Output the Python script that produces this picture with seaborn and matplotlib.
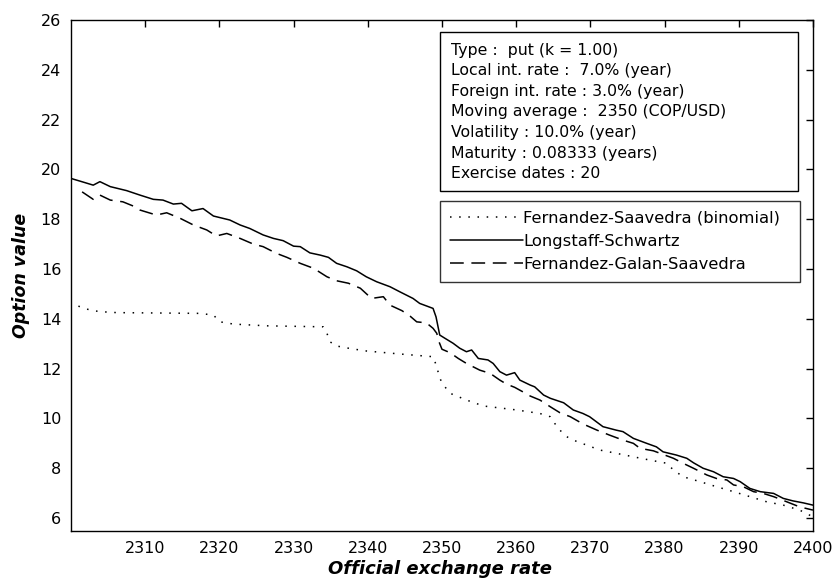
import pandas as pd
import matplotlib
matplotlib.use("Agg")
import matplotlib.pyplot as plt
import seaborn as sns
from matplotlib.patches import Rectangle

# Longstaff-Schwartz (solid)
ls_x = [2300, 2301.9, 2303, 2303.9, 2305.3, 2307.5, 2309.3, 2311.1, 2312.4, 2313.8,
        2314.9, 2316.3, 2317.8, 2319.2, 2321.4, 2322.8, 2324.1, 2325.9, 2327.3, 2328.6,
        2330, 2330.9, 2332.2, 2333.6, 2334.7, 2335.8, 2337.2, 2338.5, 2339.8, 2341.2,
        2343, 2344.3, 2346.1, 2347, 2348.8, 2349.2, 2349.7, 2350.4, 2351.5, 2352.4,
        2353.3, 2354, 2354.9, 2356.2, 2356.9, 2357.8, 2358.7, 2359.8, 2360.5, 2361.9,
        2362.5, 2363.7, 2364.6, 2366.4, 2367.7, 2369, 2369.9, 2371.7, 2373.5, 2374.4,
        2375.8, 2377.6, 2378.9, 2379.8, 2381.6, 2383, 2383.9, 2385.2, 2386.6, 2387.9,
        2389.3, 2390.2, 2391.5, 2392.9, 2394.7, 2396, 2397.3, 2398.7, 2400]
ls_y = [19.64, 19.47, 19.37, 19.51, 19.31, 19.15, 18.97, 18.8, 18.77, 18.61,
        18.64, 18.34, 18.43, 18.13, 17.97, 17.77, 17.63, 17.37, 17.23, 17.14,
        16.92, 16.9, 16.65, 16.56, 16.47, 16.23, 16.09, 15.93, 15.69, 15.49,
        15.29, 15.09, 14.82, 14.62, 14.42, 14.08, 13.35, 13.22, 13.02, 12.82,
        12.68, 12.75, 12.41, 12.35, 12.21, 11.88, 11.74, 11.84, 11.54, 11.34,
        11.27, 10.94, 10.81, 10.63, 10.34, 10.2, 10.07, 9.67, 9.53, 9.47,
        9.2, 9.0, 8.86, 8.66, 8.53, 8.4, 8.22, 8.0, 7.86, 7.66,
        7.59, 7.46, 7.19, 7.06, 6.99, 6.79, 6.69, 6.61, 6.52]

# Fernandez-Galan-Saavedra (dashed)
fgs_x = [2301.5, 2303, 2303.9, 2305.3, 2307, 2308.4, 2309.3, 2311.5, 2312.9, 2314.7,
         2316.5, 2318.3, 2319.6, 2321, 2322.8, 2324.6, 2325.9, 2327.7, 2329.1, 2330.9,
         2332.7, 2334.5, 2335.8, 2337.4, 2339, 2340.5, 2342.1, 2343, 2344.6, 2345.7,
         2346.6, 2347.9, 2348.8, 2349.3, 2349.6, 2350, 2351.1, 2352.2, 2353.3, 2355.1,
         2356.5, 2357.8, 2358.7, 2359.8, 2360.9, 2361.9, 2363.2, 2364.6, 2365.9, 2367.3,
         2369, 2370.9, 2372.6, 2374.4, 2375.8, 2376.7, 2378.5, 2379.4, 2381.2, 2382.5,
         2383.9, 2385.7, 2387, 2388.4, 2389.3, 2390.6, 2392, 2393.3, 2394.7, 2396.5,
         2398.2, 2400]
fgs_y = [19.1, 18.8, 18.97, 18.77, 18.7, 18.53, 18.37, 18.17, 18.26, 18.04,
         17.77, 17.57, 17.33, 17.43, 17.23, 17.0, 16.9, 16.63, 16.47, 16.23,
         16.03, 15.69, 15.53, 15.43, 15.23, 14.82, 14.89, 14.55, 14.33, 14.11,
         13.88, 13.84, 13.62, 13.42, 13.08, 12.78, 12.64, 12.41, 12.21, 11.94,
         11.81, 11.54, 11.38, 11.25, 11.07, 10.9, 10.74, 10.47, 10.23, 10.07,
         9.78, 9.53, 9.33, 9.13, 9.0, 8.8, 8.7, 8.6, 8.4, 8.2,
         8.0, 7.73, 7.59, 7.53, 7.33, 7.26, 7.06, 6.99, 6.86, 6.65,
         6.45, 6.32]

# Fernandez-Saavedra binomial (dotted)
bin_x = [2301, 2302.6, 2303.9, 2306.2, 2317.4, 2319.2, 2320.1, 2321.9, 2326.4, 2334,
         2334.5, 2334.9, 2335.8, 2337.6, 2339.8, 2344.3, 2348.8, 2349.3, 2349.7, 2350.4,
         2351.1, 2353.3, 2355.6, 2360.1, 2363.2, 2364.6, 2365.2, 2365.9, 2366.8, 2367.7,
         2369.5, 2371.3, 2373.5, 2375.8, 2378, 2380.3, 2381.2, 2382.5, 2384.8, 2387,
         2389.3, 2391.5, 2393.8, 2396, 2398.2, 2400]
bin_y = [14.51, 14.35, 14.29, 14.25, 14.22, 14.15, 13.88, 13.79, 13.72, 13.68,
         13.42, 13.08, 12.91, 12.81, 12.71, 12.59, 12.48, 12.08, 11.61, 11.27,
         11.01, 10.74, 10.5, 10.34, 10.2, 10.07, 9.8, 9.53, 9.27, 9.13,
         8.93, 8.73, 8.6, 8.46, 8.33, 8.2, 7.93, 7.66, 7.46, 7.26,
         7.06, 6.86, 6.65, 6.52, 6.32, 6.05]

x_ticks = [2310, 2320, 2330, 2340, 2350, 2360, 2370, 2380, 2390, 2400]
y_ticks = [6, 8, 10, 12, 14, 16, 18, 20, 22, 24, 26]

info_lines = [
    "Type :  put (k = 1.00)",
    "Local int. rate :  7.0% (year)",
    "Foreign int. rate : 3.0% (year)",
    "Moving average :  2350 (COP/USD)",
    "Volatility : 10.0% (year)",
    "Maturity : 0.08333 (years)",
    "Exercise dates : 20",
]

sns.set_style("white")
plt.rcParams["font.family"] = ["DejaVu Sans"]
plt.rcParams["text.color"] = "black"
plt.rcParams["axes.labelcolor"] = "black"

fig = plt.figure(figsize=(8.32, 5.78), dpi=100)
ax = fig.add_axes([0.0853, 0.0813, 0.8918, 0.884])

series = [
    ("Fernandez-Saavedra (binomial)", bin_x, bin_y, (0, (1, 5))),
    ("Longstaff-Schwartz", ls_x, ls_y, "-"),
    ("Fernandez-Galan-Saavedra", fgs_x, fgs_y, (0, (9, 5))),
]
for name, xs, ys, style in series:
    df = pd.DataFrame({"x": xs, "y": ys})
    sns.lineplot(data=df, x="x", y="y", ax=ax, color="black", linewidth=1.1,
                 linestyle=style, label=name, estimator=None)

ax.set_xlim(2300, 2400)
ax.set_ylim(5.48, 26)
ax.set_xticks(x_ticks)
ax.set_yticks(y_ticks)
ax.tick_params(direction="in", length=5, width=1, top=True, right=True,
               labelsize=11.5, colors="black", pad=7)
for s in ax.spines.values():
    s.set_color("black")
    s.set_linewidth(1.0)

ax.set_xlabel("Official exchange rate", fontsize=13, fontweight="bold",
              fontstyle="italic", va="top")
ax.xaxis.set_label_coords(0.497, -0.057)
ax.set_ylabel("Option value", fontsize=12.5, fontweight="bold",
              fontstyle="italic")
ax.yaxis.set_label_coords(-0.055, 0.5)

# info box
ax.add_patch(Rectangle((0.497, 0.666), 0.483, 0.311, transform=ax.transAxes,
                       facecolor="white", edgecolor="black", linewidth=1.0, zorder=5))
ax.text(0.512, 0.956, "\n".join(info_lines), transform=ax.transAxes,
        ha="left", va="top", fontsize=11.3, linespacing=1.47, zorder=6)

leg = ax.legend(loc="upper left", bbox_to_anchor=(0.497, 0.488, 0.485, 0.158),
                mode="expand", fontsize=11.8, frameon=True, fancybox=False,
                handlelength=4.5, handletextpad=0.0, borderpad=0.6,
                labelspacing=0.5, borderaxespad=0)
leg.get_frame().set_edgecolor("black")
leg.get_frame().set_linewidth(1.0)

fig.savefig("out.png", dpi=100)
